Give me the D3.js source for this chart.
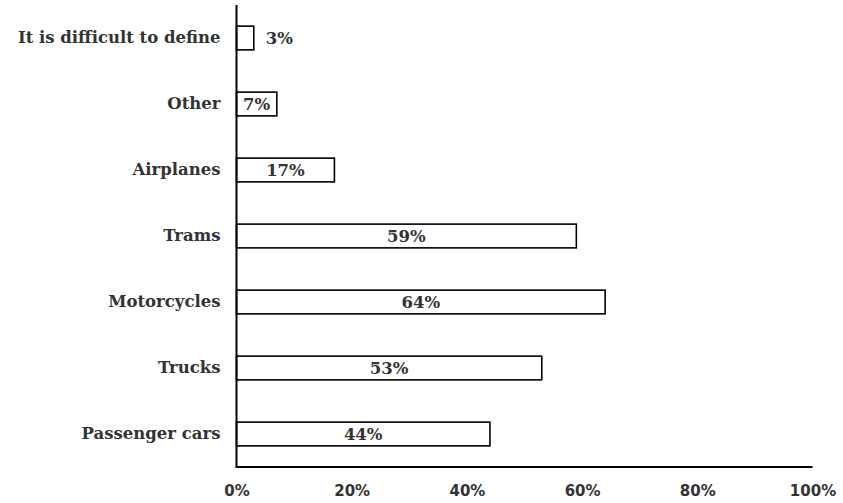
<!DOCTYPE html>
<html>
<head>
<meta charset="utf-8">
<script src="https://cdn.jsdelivr.net/npm/d3@7"></script>
<style>
  html, body { margin: 0; padding: 0; background: #fff; }
  svg { display: block; }
</style>
</head>
<body>
<div id="chart"></div>
<script>
// Modes of transport, listed top to bottom
const categories = [
  "It is difficult to define",
  "Other",
  "Airplanes",
  "Trams",
  "Motorcycles",
  "Trucks",
  "Passenger cars"
];
const values = [0.03, 0.07, 0.17, 0.59, 0.64, 0.53, 0.44];
const tickValues = [0, 0.2, 0.4, 0.6, 0.8, 1.0];

const width = 843, height = 503;
const plotLeft = 236.5, plotRight = 812.5, plotTop = 5, plotBottom = 467;

const svg = d3.select("#chart").append("svg")
  .attr("width", width).attr("height", height);

const x = d3.scaleLinear().domain([0, 1]).range([plotLeft, plotRight]);
const y = d3.scaleBand().domain(categories).range([plotTop, plotBottom])
  .paddingInner(0.64).paddingOuter(0.32);

const textColor = "#333";
const serif = "'DejaVu Serif', serif";
const sans = "'DejaVu Sans', sans-serif";

// Bars
svg.append("g").selectAll("rect")
  .data(categories)
  .join("rect")
  .attr("x", x(0))
  .attr("y", d => y(d))
  .attr("width", (d, i) => x(values[i]) - x(0))
  .attr("height", y.bandwidth())
  .attr("fill", "#fff")
  .attr("stroke", "#000")
  .attr("stroke-width", 1.6);

// Value labels: centred in the bar, or just past its end when the bar is too narrow
const narrow = i => (x(values[i]) - x(0)) < 30;
svg.append("g").selectAll("text")
  .data(categories)
  .join("text")
  .attr("x", (d, i) => narrow(i) ? x(values[i]) + 12 : (x(0) + x(values[i])) / 2)
  .attr("y", d => y(d) + y.bandwidth() / 2)
  .attr("dy", "0.36em")
  .attr("text-anchor", (d, i) => narrow(i) ? "start" : "middle")
  .attr("font-family", serif)
  .attr("font-weight", "bold")
  .attr("font-size", 16.5)
  .attr("fill", textColor)
  .text((d, i) => d3.format(".0%")(values[i]));

// Y axis: line plus category labels, no tick marks
const yAxis = svg.append("g")
  .attr("transform", `translate(${plotLeft},0)`)
  .call(d3.axisLeft(y).tickSize(0).tickPadding(16));
yAxis.select(".domain").remove();
yAxis.append("line")
  .attr("x1", 0).attr("x2", 0)
  .attr("y1", plotTop).attr("y2", plotBottom)
  .attr("stroke", "#000").attr("stroke-width", 2);
yAxis.selectAll(".tick text")
  .attr("font-family", serif)
  .attr("font-weight", "bold")
  .attr("font-size", 16.5)
  .attr("fill", textColor);

// X axis: baseline plus percentage labels
const xAxis = svg.append("g")
  .attr("transform", `translate(0,${plotBottom})`)
  .call(d3.axisBottom(x).tickValues(tickValues).tickFormat(d3.format(".0%")).tickSize(0).tickPadding(18));
xAxis.select(".domain").remove();
xAxis.append("line")
  .attr("x1", plotLeft - 1).attr("x2", plotRight)
  .attr("y1", 0).attr("y2", 0)
  .attr("stroke", "#000").attr("stroke-width", 2);
xAxis.selectAll(".tick text")
  .attr("font-family", sans)
  .attr("font-weight", "bold")
  .attr("font-size", 15)
  .attr("fill", textColor);
</script>
</body>
</html>
